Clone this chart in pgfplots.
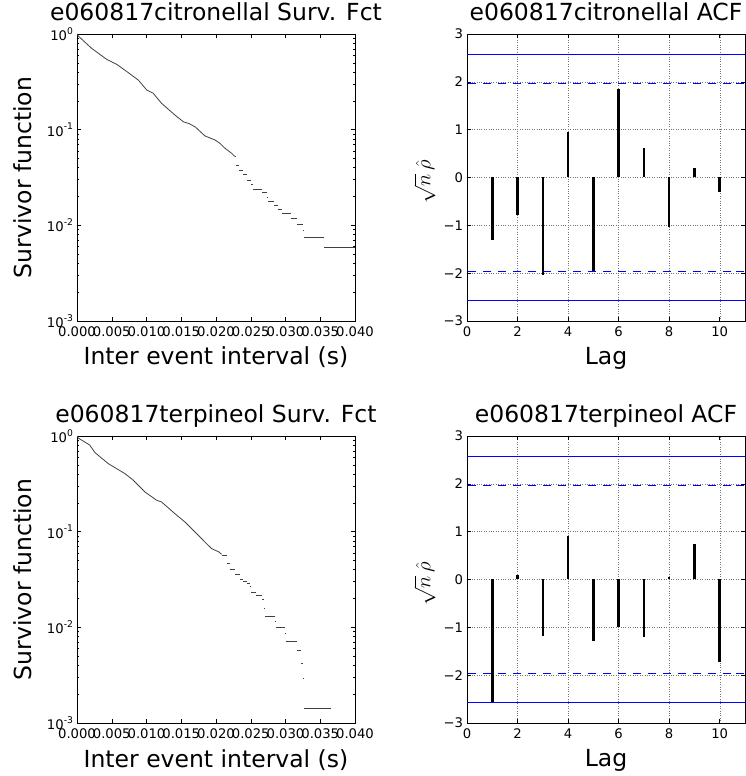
\documentclass[border=0pt]{standalone}
\usepackage{fontspec}
\setmainfont{DejaVu Sans}
\usepackage{pgfplots}
\pgfplotsset{compat=1.18}
\definecolor{mplblue}{rgb}{0,0,1}

\newcommand{\tenp}[1]{10\raisebox{0.48em}{\fontsize{9.2}{9.2}\selectfont #1}}

\pgfplotsset{
  mybase/.style={scale only axis, width=278pt, height=287pt, anchor=south west,
    tick align=inside, major tick length=4pt, minor tick length=2pt,
    axis line style={line width=0.8pt, black},
    every tick/.style={black, line width=0.5pt},
    tick label style={font=\fontsize{13.2}{15}\selectfont, black},
    /pgf/number format/assume math mode=true,
    scaled x ticks=false, scaled y ticks=false,
    title style={font=\fontsize{23.5}{28}\selectfont, at={(axis description cs:0.5,1.0244)}, anchor=base},
    xlabel style={font=\fontsize{23.5}{28}\selectfont, at={(axis description cs:0.5,-0.1533)}, anchor=base},
    xticklabel style={yshift=-2.5pt},
    yticklabel style={xshift=-0.5pt},
  },
  mysurv/.style={mybase, xmin=0, xmax=0.04, ymin=1e-3, ymax=1,
    xtick={0,0.005,0.01,0.015,0.02,0.025,0.03,0.035,0.04},
    xticklabels={0.000,0.005,0.010,0.015,0.020,0.025,0.030,0.035,0.040},
    ytick={0.001,0.01,0.1,1},
    yticklabels={\tenp{-3},\tenp{-2},\tenp{-1},\tenp{0}},
    minor ytick={0.002,0.003,0.004,0.005,0.006,0.007,0.008,0.009,0.02,0.03,0.04,0.05,0.06,0.07,0.08,0.09,0.2,0.3,0.4,0.5,0.6,0.7,0.8,0.9},
    xlabel={Inter event interval (s)},
    ylabel={Survivor function},
    ylabel style={font=\fontsize{23.5}{28}\selectfont, at={(axis description cs:-0.1619,0.5)}, anchor=base},
  },
  myacf/.style={mybase, xmin=0, xmax=11, ymin=-3, ymax=3,
    xtick={0,2,4,6,8,10},
    ytick={-3,-2,-1,0,1,2,3},
    yticklabels={−3,−2,−1,0,1,2,3},
    grid=major, grid style={dotted, black!55, line width=0.4pt},
    xlabel={Lag},
    ylabel={$\sqrt{n}\,\hat{\rho}$},
    ylabel style={font=\fontsize{21}{24}\selectfont, at={(axis description cs:-0.132,0.484)}, anchor=base},
  },
  survline/.style={black!75, line width=0.8pt},
  accbar/.style={ycomb, black, line width=2.6pt, no marks},
  bdashm/.style={only marks, mark=-, mark size=4pt, mark options={draw=mplblue, line width=1.1pt, solid}},
}

\begin{document}
\begin{tikzpicture}
\useasboundingbox (0,0) rectangle (746pt,776pt);

% ---------- top left
\begin{semilogyaxis}[mysurv, at={(77pt,455pt)}, title={e060817citronellal Surv. Fct}]
\addplot[survline] coordinates {
(0,1) (0.0002,0.95) (0.00211,0.708) (0.00427,0.543) (0.00571,0.482)
(0.00739,0.394) (0.00882,0.330) (0.01003,0.260) (0.01094,0.241)
(0.01218,0.188) (0.0141,0.142) (0.0153,0.121) (0.0162,0.115) (0.0170,0.107)
(0.01842,0.0859) (0.01986,0.0780) (0.02053,0.0723) (0.0213,0.0638)
(0.02226,0.0566) (0.02269,0.0525)};
\addplot[survline, jump mark left] coordinates {
(0.02269,0.0525) (0.0229,0.0428) (0.0233,0.0372) (0.0239,0.0339)
(0.0244,0.0298) (0.0250,0.0265) (0.02532,0.0238) (0.0266,0.0223)
(0.0273,0.0198) (0.02753,0.0178) (0.0283,0.0163) (0.0289,0.0148)
(0.0295,0.0134) (0.0308,0.0117) (0.0316,0.0103) (0.0325,0.0089)
(0.0326,0.00743) (0.03554,0.00593) (0.0400,0.00593)};
\end{semilogyaxis}

% ---------- top right
\begin{axis}[myacf, at={(467pt,455pt)}, title={e060817citronellal ACF}]
\addplot[accbar] coordinates {
(1,-1.30) (2,-0.79) (3,-2.04) (4,0.96) (5,-1.96) (6,1.84) (7,0.61) (8,-1.04) (9,0.20) (10,-0.30)};
\addplot[mplblue, line width=1pt, no marks] coordinates {(0,2.576) (11,2.576)};
\addplot[mplblue, line width=1pt, no marks] coordinates {(0,-2.576) (11,-2.576)};
\addplot[bdashm] coordinates {(0.20,1.96) (0.794,1.96) (1.388,1.96) (1.982,1.96) (2.576,1.96) (3.17,1.96) (3.764,1.96) (4.358,1.96) (4.952,1.96) (5.546,1.96) (6.14,1.96) (6.734,1.96) (7.328,1.96) (7.922,1.96) (8.516,1.96) (9.11,1.96) (9.704,1.96) (10.298,1.96) (10.80,1.96)};
\addplot[bdashm] coordinates {(0.20,-1.96) (0.794,-1.96) (1.388,-1.96) (1.982,-1.96) (2.576,-1.96) (3.17,-1.96) (3.764,-1.96) (4.358,-1.96) (4.952,-1.96) (5.546,-1.96) (6.14,-1.96) (6.734,-1.96) (7.328,-1.96) (7.922,-1.96) (8.516,-1.96) (9.11,-1.96) (9.704,-1.96) (10.298,-1.96) (10.80,-1.96)};
\end{axis}

% ---------- bottom left
\begin{semilogyaxis}[mysurv, at={(77pt,53pt)}, title={e060817terpineol Surv. Fct}]
\addplot[survline] coordinates {
(0,1) (0.0002,0.95) (0.00182,0.805) (0.00259,0.670) (0.0045,0.514)
(0.0069,0.404) (0.00806,0.347) (0.00978,0.260) (0.01141,0.214)
(0.01218,0.204) (0.0141,0.154) (0.01554,0.126) (0.01669,0.104)
(0.01746,0.0916) (0.01861,0.0753) (0.01938,0.0664) (0.0204,0.0615) (0.0208,0.0580)};
\addplot[survline, jump mark left] coordinates {
(0.0208,0.0570) (0.02154,0.0467) (0.0220,0.0407) (0.02273,0.0361)
(0.0234,0.0320) (0.0239,0.0305) (0.0244,0.0290) (0.0249,0.0266)
(0.0251,0.0230) (0.0257,0.0216) (0.0266,0.0195) (0.0269,0.0158)
(0.0271,0.0129) (0.0285,0.0115) (0.0287,0.0100) (0.0299,0.0087)
(0.0301,0.0072) (0.0316,0.0057) (0.0323,0.0042) (0.0325,0.0029)
(0.0327,0.00142) (0.0366,0.00142)};
\end{semilogyaxis}

% ---------- bottom right
\begin{axis}[myacf, at={(467pt,53pt)}, title={e060817terpineol ACF}]
\addplot[accbar] coordinates {
(1,-2.56) (2,0.10) (3,-1.19) (4,0.91) (5,-1.29) (6,-1.00) (7,-1.21) (8,0.05) (9,0.74) (10,-1.73)};
\addplot[mplblue, line width=1pt, no marks] coordinates {(0,2.576) (11,2.576)};
\addplot[mplblue, line width=1pt, no marks] coordinates {(0,-2.576) (11,-2.576)};
\addplot[bdashm] coordinates {(0.20,1.96) (0.794,1.96) (1.388,1.96) (1.982,1.96) (2.576,1.96) (3.17,1.96) (3.764,1.96) (4.358,1.96) (4.952,1.96) (5.546,1.96) (6.14,1.96) (6.734,1.96) (7.328,1.96) (7.922,1.96) (8.516,1.96) (9.11,1.96) (9.704,1.96) (10.298,1.96) (10.80,1.96)};
\addplot[bdashm] coordinates {(0.20,-1.96) (0.794,-1.96) (1.388,-1.96) (1.982,-1.96) (2.576,-1.96) (3.17,-1.96) (3.764,-1.96) (4.358,-1.96) (4.952,-1.96) (5.546,-1.96) (6.14,-1.96) (6.734,-1.96) (7.328,-1.96) (7.922,-1.96) (8.516,-1.96) (9.11,-1.96) (9.704,-1.96) (10.298,-1.96) (10.80,-1.96)};
\end{axis}
\end{tikzpicture}
\end{document}
